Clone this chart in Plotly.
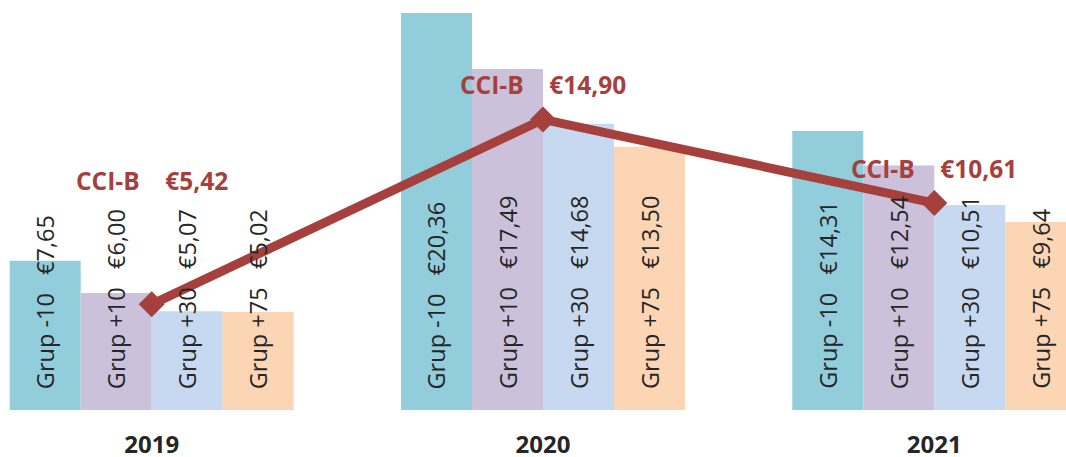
import plotly.graph_objects as go

years = ["2019", "2020", "2021"]
groups = ["Grup -10", "Grup +10", "Grup +30", "Grup +75"]
grup_m10 = [7.65, 20.36, 14.31]
grup_p10 = [6.00, 17.49, 12.54]
grup_p30 = [5.07, 14.68, 10.51]
grup_p75 = [5.02, 13.50, 9.64]
cci_b = [5.42, 14.90, 10.61]

series = [grup_m10, grup_p10, grup_p30, grup_p75]
colors = ["#92CDDC", "#CCC1DA", "#C6D9F1", "#FCD5B5"]
line_color = "#A5403D"
label_color = "#262626"
FONT = "Open Sans"

bargap = 0.274
nb = len(groups)
bw = (1 - bargap) / nb


def euro(v):
    return "€" + f"{v:.2f}".replace(".", ",")


fig = go.Figure()
for name, vals, col in zip(groups, series, colors):
    fig.add_trace(go.Bar(x=years, y=vals, name=name, marker=dict(color=col, line=dict(width=0)),
                         showlegend=False, hoverinfo="skip"))

fig.add_trace(go.Scatter(x=years, y=cci_b, mode="lines+markers", name="CCI-B",
                         line=dict(color=line_color, width=9),
                         marker=dict(symbol="diamond", size=20, color=line_color),
                         showlegend=False, hoverinfo="skip"))

annotations = []
sp = "\u00a0\u00a0\u00a0"
for gi, (name, vals) in enumerate(zip(groups, series)):
    for yi, v in enumerate(vals):
        xpos = yi + (gi - (nb - 1) / 2) * bw
        annotations.append(dict(
            x=xpos, y=0, xref="x", yref="y", text=name + sp + euro(v),
            textangle=-90, showarrow=False, xanchor="center", yanchor="bottom",
            yshift=19, font=dict(family=FONT, size=23.5, color=label_color)))

# CCI-B label offsets (px) relative to each line point
sp2 = "\u00a0\u00a0\u00a0\u00a0"
cci_shift = [(0, 124), (0, 35), (0, 35)]
for yi, v in enumerate(cci_b):
    dx, dy = cci_shift[yi]
    annotations.append(dict(
        x=yi, y=v, xref="x", yref="y", text="<b>CCI-B" + sp2 + euro(v) + "</b>",
        showarrow=False, xanchor="center", yanchor="middle", xshift=dx, yshift=dy,
        font=dict(family=FONT, size=24.5, color=line_color)))

fig.update_layout(
    width=1066, height=457,
    margin=dict(l=0, r=0, t=0, b=47, autoexpand=False),
    paper_bgcolor="white", plot_bgcolor="white",
    barmode="group", bargap=bargap, bargroupgap=0,
    annotations=annotations,
    xaxis=dict(type="category", range=[-0.3877, 2.3366], showgrid=False, zeroline=False,
               showline=False, ticks="", tickvals=years, automargin=False,
               ticktext=["<b>" + y + "</b>" for y in years],
               tickfont=dict(family=FONT, size=24, color=label_color),
               ticklabelstandoff=18),
    yaxis=dict(range=[0, 410 / 19.5], visible=False, automargin=False),
)

fig.write_html("out.html", config={"displayModeBar": False},
               post_script="document.body.style.margin='0';document.body.style.overflow='hidden';")
